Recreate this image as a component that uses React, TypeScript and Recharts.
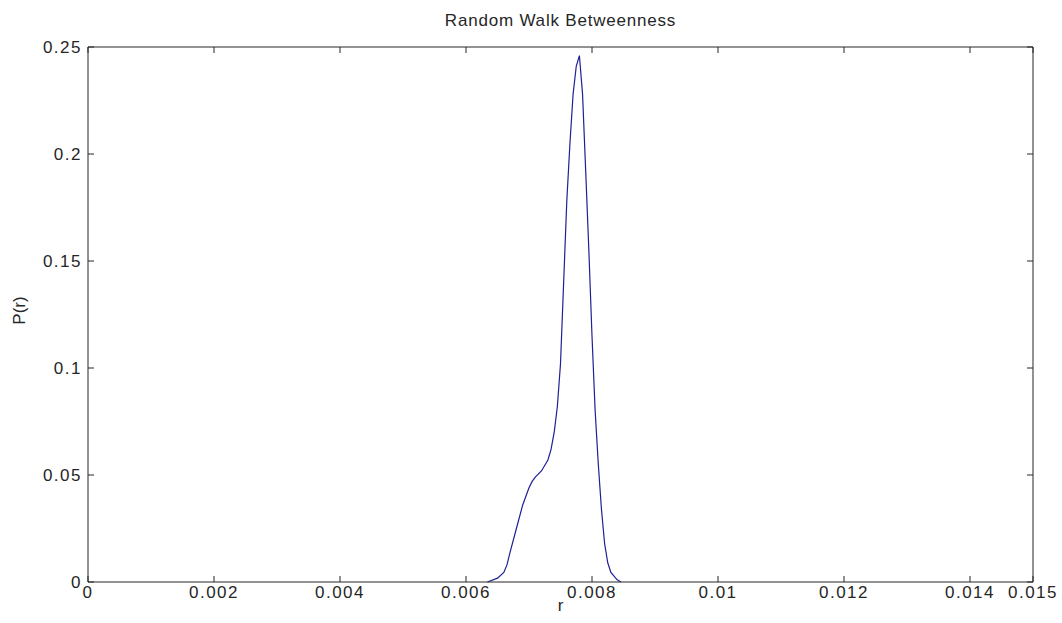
import { LineChart, Line, XAxis, YAxis } from 'recharts'

// kernel density estimate of random-walk betweenness
const rValues = [
  0.00634, 0.0065, 0.0066, 0.00665, 0.0067, 0.0068, 0.0069, 0.007, 0.00705, 0.0071,
  0.0072, 0.0073, 0.00735, 0.0074, 0.00745, 0.0075, 0.00755, 0.0076, 0.00765, 0.0077,
  0.00775, 0.0078, 0.00785, 0.0079, 0.00795, 0.008, 0.00805, 0.0081, 0.00815, 0.0082,
  0.00825, 0.0083, 0.0084, 0.00846,
]
const pValues = [
  0, 0.0018, 0.0045, 0.008, 0.014, 0.025, 0.036, 0.044, 0.047, 0.049,
  0.052, 0.057, 0.062, 0.07, 0.082, 0.102, 0.14, 0.178, 0.205, 0.228,
  0.241, 0.246, 0.228, 0.192, 0.155, 0.115, 0.08, 0.055, 0.034, 0.018,
  0.009, 0.0045, 0.001, 0,
]

const xTicks = [0, 0.002, 0.004, 0.006, 0.008, 0.01, 0.012, 0.014, 0.015]
const yTicks = [0, 0.05, 0.1, 0.15, 0.2, 0.25]

const data = rValues.map((r, i) => ({ r, p: pValues[i] }))

const FONT = '"Liberation Sans", Arial, sans-serif'
const INK = '#262626'
const TICK_LEN = 6
// recharts offsets custom tick props by tickSize; we draw the tick marks ourselves
const OFF = 6

// MATLAB-style box: ticks point into the plot on all four sides
const BottomTick = ({ x, y, payload }: any) => {
  const ay = y - OFF
  return (
    <g>
      <line x1={x} x2={x} y1={ay} y2={ay - TICK_LEN} stroke={INK} />
      <text x={x} y={ay + 16} textAnchor="middle" fill={INK} fontSize={17} fontFamily={FONT} letterSpacing={1.5}>
        {String(payload.value)}
      </text>
    </g>
  )
}

const LeftTick = ({ x, y, payload }: any) => {
  const ax = x + OFF
  return (
    <g>
      <line x1={ax} x2={ax + TICK_LEN} y1={y} y2={y} stroke={INK} />
      <text x={ax - 6} y={y + 6} textAnchor="end" fill={INK} fontSize={17} fontFamily={FONT} letterSpacing={1.5}>
        {String(payload.value)}
      </text>
    </g>
  )
}

const TopTick = ({ x, y }: any) => {
  const ay = y + OFF
  return <line x1={x} x2={x} y1={ay} y2={ay + TICK_LEN} stroke={INK} />
}

const RightTick = ({ x, y }: any) => {
  const ax = x - OFF
  return <line x1={ax} x2={ax - TICK_LEN} y1={y} y2={y} stroke={INK} />
}

const YLabel = ({ viewBox }: any) => {
  const cx = viewBox.x + 11
  const cy = viewBox.y + viewBox.height / 2 - 4
  return (
    <text
      x={cx}
      y={cy}
      transform={`rotate(-90 ${cx} ${cy})`}
      textAnchor="middle"
      dominantBaseline="central"
      fill={INK}
      fontSize={17}
      fontFamily={FONT}
    >
      P(r)
    </text>
  )
}

export default function App() {
  return (
    <div style={{ position: 'absolute', left: 0, top: 0, width: 1062, height: 623, background: '#fff' }}>
      <LineChart width={1062} height={623} data={data} margin={{ top: 46, right: 28, bottom: 11, left: 8 }}>
        <XAxis
          dataKey="r"
          type="number"
          domain={[0, 0.015]}
          ticks={xTicks}
          interval={0}
          height={30}
          tickLine={false}
          tickSize={OFF}
          tickMargin={0}
          stroke={INK}
          tick={BottomTick}
          label={{ value: 'r', position: 'insideBottom', offset: 1, fill: INK, fontSize: 17, fontFamily: FONT }}
        />
        {/* top and right axes only carry the box edge and inward ticks (need a non-zero size to render) */}
        <XAxis
          xAxisId="top"
          dataKey="r"
          orientation="top"
          type="number"
          domain={[0, 0.015]}
          allowDataOverflow
          ticks={xTicks}
          interval={0}
          height={1}
          tickLine={false}
          tickSize={OFF}
          tickMargin={0}
          stroke={INK}
          tick={TopTick}
          label={{ value: 'Random Walk Betweenness', position: 'top', offset: 20, fill: INK, fontSize: 17, fontFamily: FONT, letterSpacing: 0.8 }}
        />
        <YAxis
          type="number"
          domain={[0, 0.25]}
          ticks={yTicks}
          interval={0}
          width={80}
          tickLine={false}
          tickSize={OFF}
          tickMargin={0}
          stroke={INK}
          tick={LeftTick}
          label={{ content: YLabel }}
        />
        <YAxis
          yAxisId="right"
          orientation="right"
          type="number"
          domain={[0, 0.25]}
          allowDataOverflow
          ticks={yTicks}
          interval={0}
          width={1}
          tickLine={false}
          tickSize={OFF}
          tickMargin={0}
          stroke={INK}
          tick={RightTick}
        />
        {/* hidden copy bound to the top/right axes so they get a domain */}
        <Line
          xAxisId="top"
          yAxisId="right"
          type="linear"
          dataKey="p"
          stroke="none"
          dot={false}
          activeDot={false}
          legendType="none"
          isAnimationActive={false}
        />
        <Line
          type="linear"
          dataKey="p"
          stroke="#1f1f96"
          strokeWidth={1.2}
          dot={false}
          isAnimationActive={false}
        />
      </LineChart>
    </div>
  )
}
